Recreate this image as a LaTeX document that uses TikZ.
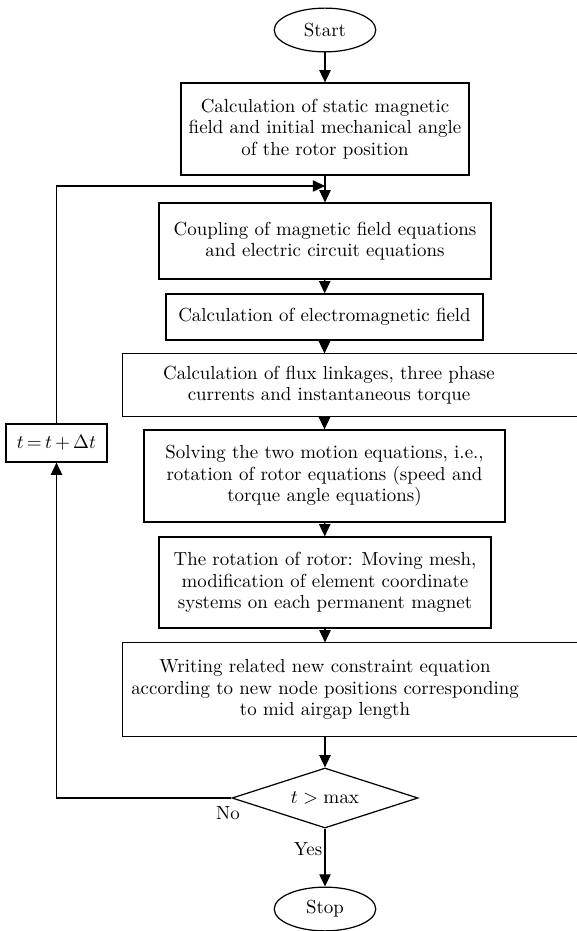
\documentclass[tikz,border=0pt]{standalone}
\usetikzlibrary{shapes.geometric,arrows.meta}
\begin{document}
\begin{tikzpicture}[x=0.5714pt, y=-0.5714pt, line width=0.7pt,
    every node/.style={font=\fontsize{10.8pt}{12.3pt}\selectfont},
    flow/.style={-{Triangle[length=7pt,width=6.5pt]}},
    stepbox/.style={draw, rectangle, align=center, inner sep=2pt},
    openbox/.style={rectangle, align=center, inner sep=2pt},
    term/.style={draw, ellipse, minimum width=58pt, minimum height=25pt, inner sep=0pt}]
    \useasboundingbox (0,0) rectangle (577,931);
    \node[term] (start) at (325,30) {Start};
    \node[stepbox, minimum width=164.6pt, minimum height=52.6pt] (static) at (325,129)
        {Calculation of static magnetic\\field and initial mechanical angle\\of the rotor position};
    \coordinate (merge) at (325,186);
    \node[stepbox, minimum width=189.7pt, minimum height=43.4pt] (coupling) at (325,241)
        {Coupling of magnetic field equations\\and electric circuit equations};
    \node[stepbox, minimum width=181.1pt, minimum height=26.3pt] (emfield) at (324.5,317)
        {Calculation of electromagnetic field};
    \node[openbox, minimum width=235.4pt, minimum height=35.4pt] (flux) at (329,385)
        {Calculation of flux linkages, three phase\\currents and instantaneous torque};
    \draw ([xshift=80pt]flux.north east) -- (flux.north west) -- (flux.south west) -- ([xshift=80pt]flux.south east);
    \node[stepbox, minimum width=206.3pt, minimum height=52.6pt] (motion) at (324.5,476)
        {Solving the two motion equations, i.e.,\\rotation of rotor equations (speed and\\torque angle equations)};
    \node[stepbox, minimum width=189.7pt, minimum height=52pt] (mesh) at (325,582.5)
        {The rotation of rotor: Moving mesh,\\modification of element coordinate\\systems on each permanent magnet};
    \node[openbox, minimum width=230.8pt, minimum height=53.1pt] (constr) at (325,689.5)
        {Writing related new constraint equation\\according to new node positions corresponding\\to mid airgap length};
    \draw ([xshift=80pt]constr.north east) -- (constr.north west) -- (constr.south west) -- ([xshift=80pt]constr.south east);
    \node[draw, diamond, aspect=3.1, minimum width=106.3pt, minimum height=34.3pt, inner sep=0pt] (dec) at (325,798) {$t>\max$};
    \node[term] (stop) at (325,909) {Stop};
    \node[stepbox, minimum width=57.7pt, minimum height=21.7pt] (tstep) at (56.5,443) {$t\,{=}\,t\,{+}\,\Delta t$};
    \node (no) at (228,813) {No};
    \node (yes) at (308,849) {Yes};
    \draw[flow] (start) -- (static);
    \draw[flow] (static.south) -- (coupling.north);
    \draw[flow] (coupling) -- (emfield);
    \draw[flow] (emfield.south) -- (emfield.south |- flux.north);
    \draw[flow] (motion.north |- flux.south) -- (motion.north);
    \draw[flow] (motion) -- (mesh);
    \draw[flow] (mesh) -- (constr);
    \draw[flow] (constr) -- (dec);
    \draw[flow] (dec) -- (stop);
    \draw[flow] (dec.west) -| (tstep.south);
    \draw[flow] (tstep.north) |- (merge);
\end{tikzpicture}
\end{document}
